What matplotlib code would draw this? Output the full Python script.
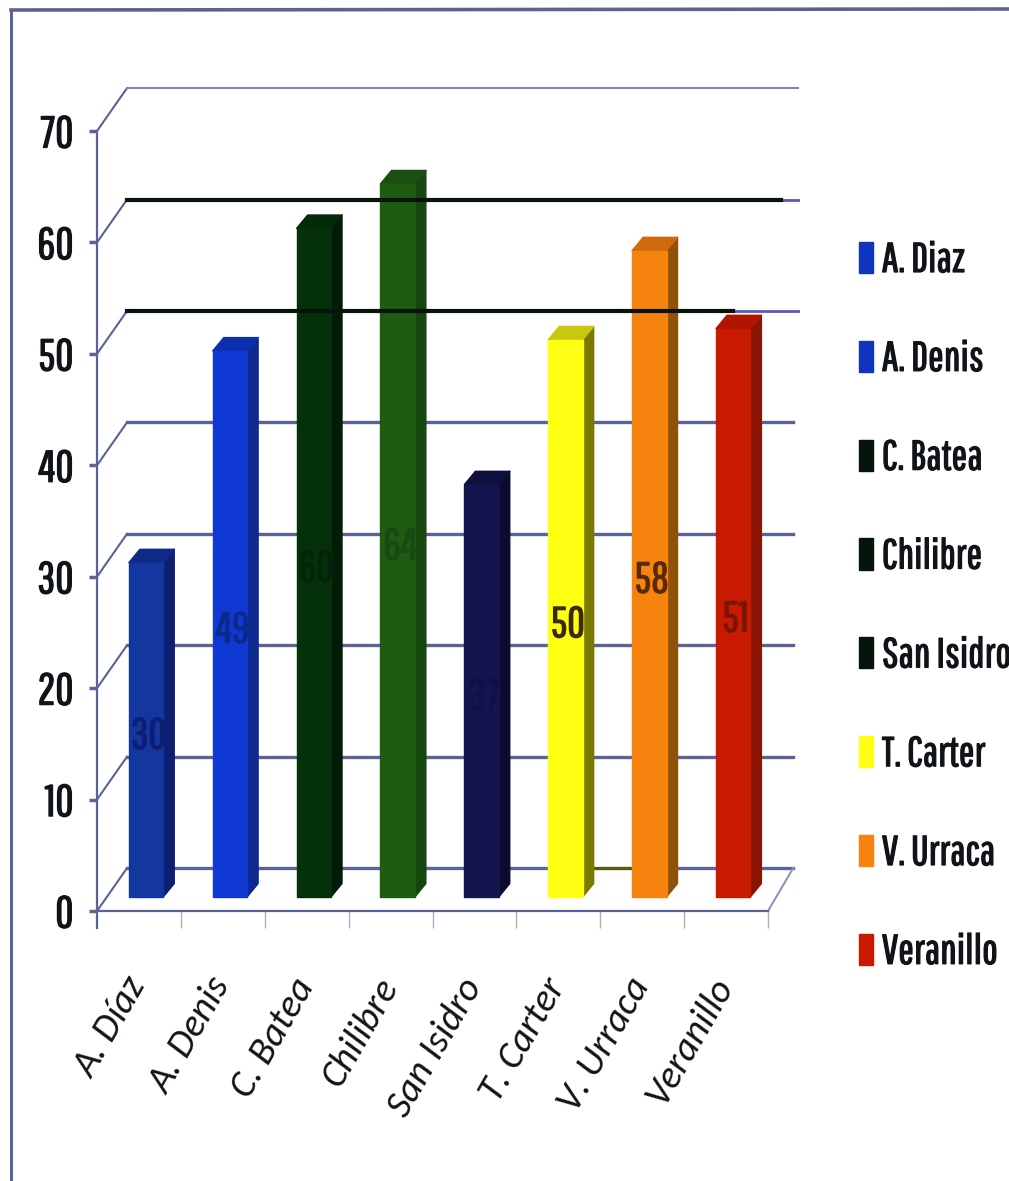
import matplotlib
matplotlib.use('Agg')
import matplotlib.pyplot as plt
import matplotlib.patheffects as pe
from matplotlib.lines import Line2D
from matplotlib.patches import Patch, Polygon

categories = ['A. Díaz', 'A. Denis', 'C. Batea', 'Chilibre', 'San Isidro', 'T. Carter', 'V. Urraca', 'Veranillo']
values = [30, 49, 60, 64, 37, 50, 58, 51]

front_colors = ['#14369f', '#1038d2', '#04300a', '#1f5c12', '#14144f', '#ffff14', '#f5830e', '#c81a00']
side_colors = ['#0c1f70', '#0c2a90', '#021c0a', '#174510', '#0b0b30', '#7a7a00', '#8f5208', '#8a1505']
top_colors = ['#0f2a88', '#0c2fb0', '#042a08', '#1a5010', '#10103f', '#c8c810', '#d06a10', '#b01500']
label_colors = ['#0c1f70', '#0c2a8a', '#04240a', '#1a4a14', '#10104a', '#3a2a00', '#5a2a05', '#7a1505']
legend_colors = ['#0f35c0', '#0f35c0', '#06140c', '#06140c', '#06140c', '#ffff14', '#f5830e', '#c81a00']
legend_labels = ['A. Diaz', 'A. Denis', 'C. Batea', 'Chilibre', 'San Isidro', 'T. Carter', 'V. Urraca', 'Veranillo']

axis_color = '#5a6296'
narrow = ['Pathway Gothic One', 'Barlow Condensed', 'Liberation Sans', 'DejaVu Sans']
slanted = ['Carlito', 'Lato', 'DejaVu Sans']

# depth of the fake 3D box, in data units
wall_dx, wall_dy = 0.358, 3.85
bar_dx, bar_dy = 0.131, 1.2
bar_width = 0.41
bar_shift = 0.085
bar_base = 1.26
# rotated category names hang left of their slot
label_shift = 0.18


def heavier(color, width=0.9):
    # the narrow font only comes in one weight
    return [pe.withStroke(linewidth=width, foreground=color)]


fig = plt.figure(figsize=(10.09, 11.81), dpi=100)
ax = fig.add_axes([97 / 1009, 270 / 1181, 671 / 1009, 780 / 1181])
ax.set_xlim(0, 8)
ax.set_ylim(0, 70)
for s in ['top', 'right']:
    ax.spines[s].set_visible(False)
for s in ['left', 'bottom']:
    ax.spines[s].set_color(axis_color)
    ax.spines[s].set_linewidth(1.6)

centers = [i + 0.5 for i in range(len(categories))]
ax.set_yticks(range(0, 71, 10))
ax.tick_params(axis='y', length=6, width=2.5, color=axis_color, pad=11, labelsize=32)
for t in ax.get_yticklabels():
    t.set_family(narrow)
    t.set_path_effects(heavier('#101418'))
    t.set_color('#101418')
ax.set_xticks([c - label_shift for c in centers])
ax.set_xticklabels(categories, rotation=60, ha='right', rotation_mode='anchor',
                   style='italic', fontsize=28, family=slanted, color='#101418')
ax.tick_params(axis='x', which='major', length=0, pad=44)
ax.set_xticks(range(1, 9), minor=True)
ax.tick_params(axis='x', which='minor', length=12, width=1, color='#b0b0b8')

# left axis runs a little below zero
ax.plot([0, 0], [0, -1.5], color=axis_color, lw=1.6, clip_on=False)

# side wall and back wall lines
for v in range(0, 71, 10):
    ax.plot([0, wall_dx], [v, v + wall_dy], color=axis_color, lw=1.5, clip_on=False, zorder=1)
    if v == 70:
        ax.plot([wall_dx, 8.36], [v + wall_dy] * 2, color='#8088aa', lw=1.5, clip_on=False, zorder=1)
    elif v in (50, 60):
        ax.plot([7.6, 8.36], [v + wall_dy] * 2, color='#5a58b0', lw=2, clip_on=False, zorder=1)
    else:
        ax.plot([wall_dx, 8.3], [v + wall_dy] * 2, color=axis_color, lw=2.4, clip_on=False, zorder=1)

# floor, right edge
ax.plot([8, 8.3], [0, wall_dy], color='#9096b8', lw=1.5, clip_on=False, zorder=1)

for i, v in enumerate(values):
    x0 = centers[i] + bar_shift - bar_width / 2
    x1 = x0 + bar_width
    y0 = bar_base
    y1 = bar_base + v
    ax.add_patch(Polygon([(x1, y0), (x1 + bar_dx, y0 + bar_dy), (x1 + bar_dx, y1 + bar_dy), (x1, y1)],
                         facecolor=side_colors[i], edgecolor=side_colors[i], lw=1, joinstyle='round',
                         clip_on=False, zorder=3))
    ax.add_patch(Polygon([(x0, y1), (x1, y1), (x1 + bar_dx, y1 + bar_dy), (x0 + bar_dx, y1 + bar_dy)],
                         facecolor=top_colors[i], edgecolor=top_colors[i], lw=1, joinstyle='round',
                         clip_on=False, zorder=3))
    ax.add_patch(Polygon([(x0, y0), (x1, y0), (x1, y1), (x0, y1)],
                         facecolor=front_colors[i], edgecolor=front_colors[i], lw=1,
                         clip_on=False, zorder=4))
    ax.text(centers[i] + bar_shift + 0.03, bar_base + v / 2 - 0.6, str(v), color=label_colors[i],
            ha='center', va='center', fontsize=31, family=narrow, zorder=5,
            path_effects=heavier(label_colors[i]))

# the 50 and 60 lines are heavy and sit over the bars
ax.plot([wall_dx, 7.58], [50 + wall_dy] * 2, color='#06140c', lw=3.0, clip_on=False, zorder=6)
ax.plot([wall_dx, 8.15], [60 + wall_dy] * 2, color='#06140c', lw=3.0, clip_on=False, zorder=6)

# olive stub behind T. Carter
ax.plot([5.8, 6.4], [wall_dy] * 2, color='#5a5a00', lw=2.2, clip_on=False, zorder=2)

handles = [Patch(facecolor=c, edgecolor=c) for c in legend_colors]
leg = fig.legend(handles, legend_labels, loc='upper left', bbox_to_anchor=(859 / 1009, 1 - 241 / 1181),
                 frameon=False, handlelength=0.33, handleheight=0.77, handletextpad=0.22,
                 labelspacing=1.46, borderpad=0, borderaxespad=0,
                 prop={'family': narrow, 'size': 30})
for t in leg.get_texts():
    t.set_color('#101418')
    t.set_path_effects(heavier('#101418'))

# outer frame, top and left only
fig.add_artist(Line2D([11 / 1009, 11 / 1009], [0, 1 - 10 / 1181], color=axis_color, lw=2.2))
fig.add_artist(Line2D([11 / 1009, 1], [1 - 10 / 1181, 1 - 9 / 1181], color=axis_color, lw=2.6))

fig.savefig('out.png', dpi=100, facecolor='white')
